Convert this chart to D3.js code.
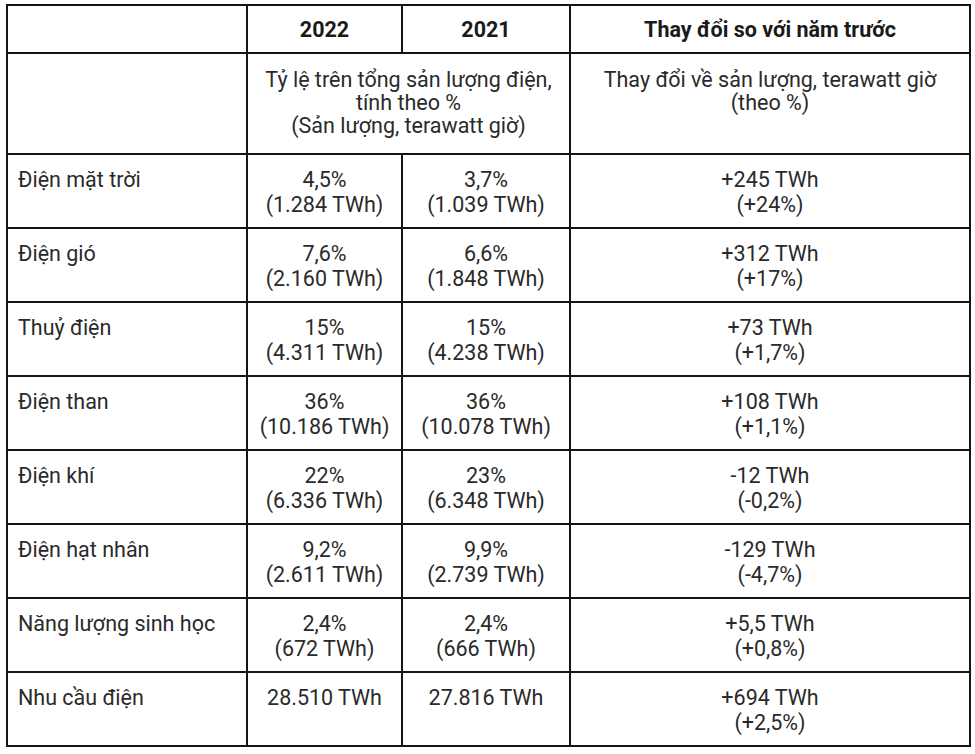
<!DOCTYPE html>
<html>
<head>
<meta charset="utf-8">
<script src="https://cdn.jsdelivr.net/npm/d3@7"></script>
<style>
  html, body { margin: 0; padding: 0; background: #fff; }
  svg { display: block; }
</style>
</head>
<body>
<svg id="chart" width="975" height="754"></svg>
<script>
// ---- data ----
const categories = ["Điện mặt trời", "Điện gió", "Thuỷ điện", "Điện than", "Điện khí", "Điện hạt nhân", "Năng lượng sinh học", "Nhu cầu điện"];
const share2022 = [4.5, 7.6, 15, 36, 22, 9.2, 2.4, null];
const twh2022 = [1284, 2160, 4311, 10186, 6336, 2611, 672, 28510];
const share2021 = [3.7, 6.6, 15, 36, 23, 9.9, 2.4, null];
const twh2021 = [1039, 1848, 4238, 10078, 6348, 2739, 666, 27816];
const changeTwh = [245, 312, 73, 108, -12, -129, 5.5, 694];
const changePct = [24, 17, 1.7, 1.1, -0.2, -4.7, 0.8, 2.5];
const headerYears = ["2022", "2021"];
const headerChange = "Thay đổi so với năm trước";
const subShare = ["Tỷ lệ trên tổng sản lượng điện,", "tính theo %", "(Sản lượng, terawatt giờ)"];
const subChange = ["Thay đổi về sản lượng, terawatt giờ", "(theo %)"];

// ---- formatting ----
const vi = d3.formatLocale({decimal: ",", thousands: ".", grouping: [3], currency: ["", ""], minus: "-"});
const fNum = vi.format(",.2~f");
const fSigned = vi.format("+,.2~f");

// ---- layout ----
const svg = d3.select("#chart");
const colEdges = [7, 247, 402, 570, 970];
const tableTop = 5, headerBottom = 53, subBottom = 154, tableBottom = 746;
const y = d3.scaleBand().domain(categories).range([subBottom, tableBottom]).padding(0);
const font = "Roboto, 'Noto Sans', sans-serif";
const textColor = "#2a2a2a";
const lineColor = "#151515";

const g = svg.append("g").attr("font-family", font).attr("font-size", 21.5).attr("fill", textColor);

function cx(i) { return (colEdges[i] + colEdges[i + 1]) / 2; }

// header row
g.selectAll("text.year").data(headerYears).join("text")
  .attr("class", "year")
  .attr("x", (d, i) => cx(i + 1)).attr("y", 37)
  .attr("text-anchor", "middle").attr("font-weight", 700).attr("fill", "#1a1a1a")
  .text(d => d);
g.append("text").attr("x", cx(3)).attr("y", 37)
  .attr("text-anchor", "middle").attr("font-weight", 700).attr("fill", "#1a1a1a").text(headerChange);

// sub header
g.selectAll("text.subshare").data(subShare).join("text")
  .attr("class", "subshare")
  .attr("x", (colEdges[1] + colEdges[3]) / 2).attr("y", (d, i) => 86.5 + i * 23)
  .attr("text-anchor", "middle").text(d => d);
g.selectAll("text.subchange").data(subChange).join("text")
  .attr("class", "subchange")
  .attr("x", cx(3)).attr("y", (d, i) => 86.5 + i * 23)
  .attr("text-anchor", "middle").text(d => d);

// data rows
const rows = categories.map((c, i) => ({
  c,
  col1: share2022[i] == null ? [fNum(twh2022[i]) + " TWh"] : [fNum(share2022[i]) + "%", "(" + fNum(twh2022[i]) + " TWh)"],
  col2: share2021[i] == null ? [fNum(twh2021[i]) + " TWh"] : [fNum(share2021[i]) + "%", "(" + fNum(twh2021[i]) + " TWh)"],
  col3: [fSigned(changeTwh[i]) + " TWh", "(" + fSigned(changePct[i]) + "%)"]
}));

const rowG = g.selectAll("g.row").data(rows).join("g")
  .attr("class", "row")
  .attr("transform", d => `translate(0,${y(d.c)})`);

rowG.append("text").attr("x", 18).attr("y", 33).text(d => d.c);

["col1", "col2", "col3"].forEach((k, ci) => {
  rowG.each(function(d) {
    d3.select(this).selectAll("text." + k).data(d[k]).join("text")
      .attr("class", k)
      .attr("x", cx(ci + 1))
      .attr("y", (t, j) => 33 + j * 25)
      .attr("text-anchor", "middle")
      .text(t => t);
  });
});

// grid lines
const lines = svg.append("g").attr("stroke", lineColor).attr("stroke-width", 2).attr("fill", "none");
const hY = [tableTop, headerBottom, subBottom].concat(categories.map(c => y(c) + y.bandwidth()));
lines.selectAll("line.h").data(hY).join("line")
  .attr("class", "h")
  .attr("x1", colEdges[0] - 1).attr("x2", colEdges[4] + 1)
  .attr("y1", d => d).attr("y2", d => d);
const vSegs = [
  {x: colEdges[0], y1: tableTop, y2: tableBottom},
  {x: colEdges[4], y1: tableTop, y2: tableBottom},
  {x: colEdges[1], y1: tableTop, y2: tableBottom},
  {x: colEdges[3], y1: tableTop, y2: tableBottom},
  {x: colEdges[2], y1: tableTop, y2: headerBottom},
  {x: colEdges[2], y1: subBottom, y2: tableBottom}
];
lines.selectAll("line.v").data(vSegs).join("line")
  .attr("class", "v")
  .attr("x1", d => d.x).attr("x2", d => d.x)
  .attr("y1", d => d.y1 - 1).attr("y2", d => d.y2 + 1);
</script>
</body>
</html>
